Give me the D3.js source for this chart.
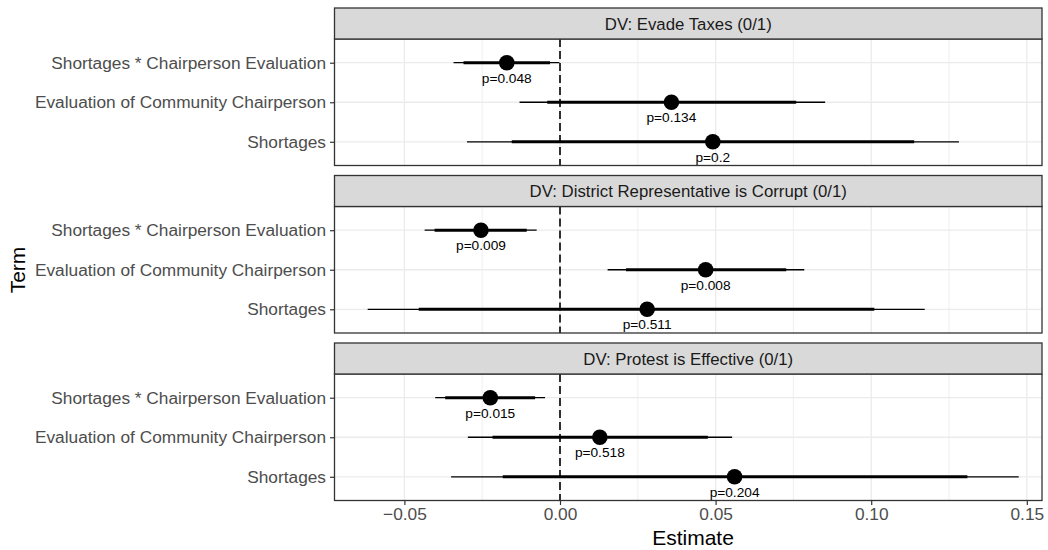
<!DOCTYPE html>
<html lang="en">
<head>
<meta charset="UTF-8">
<script src="https://d3js.org/d3.v7.min.js"></script>
<title>Coefficient plot</title>
<style>
  body { margin: 0; background: #fff; }
  svg text { font-family: "Liberation Sans", Arial, Helvetica, sans-serif; }
</style>
</head>
<body>
<div id="container"></div>
<script>
// terms, top to bottom inside each facet
var terms = ["Shortages * Chairperson Evaluation", "Evaluation of Community Chairperson", "Shortages"];
var facets = ["DV: Evade Taxes (0/1)", "DV: District Representative is Corrupt (0/1)", "DV: Protest is Effective (0/1)"];

// point estimates per facet (same order as terms)
var estimates = [
  [-0.0171, 0.0358, 0.0491],
  [-0.0254, 0.0468, 0.0280],
  [-0.0224, 0.0128, 0.0561]
];
// outer (thin) interval
var ciLow95 = [
  [-0.0342, -0.0130, -0.0299],
  [-0.0435, 0.0153, -0.0618],
  [-0.0401, -0.0296, -0.0350]
];
var ciHigh95 = [
  [-0.0002, 0.0852, 0.1282],
  [-0.0075, 0.0785, 0.1172],
  [-0.0048, 0.0553, 0.1474]
];
// inner (thick) interval
var ciLow90 = [
  [-0.0310, -0.0041, -0.0155],
  [-0.0403, 0.0212, -0.0454],
  [-0.0369, -0.0217, -0.0184]
];
var ciHigh90 = [
  [-0.0032, 0.0759, 0.1138],
  [-0.0107, 0.0727, 0.1010],
  [-0.0080, 0.0475, 0.1309]
];
var pLabels = [
  ["p=0.048", "p=0.134", "p=0.2"],
  ["p=0.009", "p=0.008", "p=0.511"],
  ["p=0.015", "p=0.518", "p=0.204"]
];
var xTicks = [-0.05, 0, 0.05, 0.10, 0.15];
var xMinor = [-0.025, 0.025, 0.075, 0.125];

var width = 1048, height = 550;
var left = 334.5, right = 1042;
var top0 = 8, stripH = 31, panelH = 126.5, gap = 10;

var svg = d3.select("#container").append("svg")
  .attr("width", width).attr("height", height);

var x = d3.scaleLinear().domain([-0.07246, 0.15488]).range([left, right]);

facets.forEach(function(title, f) {
  var sTop = top0 + f * (stripH + panelH + gap);
  var pTop = sTop + stripH;
  var pBot = pTop + panelH;

  var y = d3.scalePoint().domain(terms).range([pTop, pBot]).padding(0.6);

  var g = svg.append("g");

  // panel background + grid
  g.append("rect").attr("x", left).attr("y", pTop).attr("width", right - left).attr("height", panelH)
    .attr("fill", "#fff");
  g.selectAll(".minor").data(xMinor).enter().append("line")
    .attr("x1", d => x(d)).attr("x2", d => x(d)).attr("y1", pTop).attr("y2", pBot)
    .attr("stroke", "#ebebeb").attr("stroke-width", 0.8);
  g.selectAll(".major").data(xTicks).enter().append("line")
    .attr("x1", d => x(d)).attr("x2", d => x(d)).attr("y1", pTop).attr("y2", pBot)
    .attr("stroke", "#ebebeb").attr("stroke-width", 1.3);
  g.selectAll(".hgrid").data(terms).enter().append("line")
    .attr("x1", left).attr("x2", right).attr("y1", d => y(d)).attr("y2", d => y(d))
    .attr("stroke", "#ebebeb").attr("stroke-width", 1.3);

  // zero line
  g.append("line").attr("x1", x(0)).attr("x2", x(0)).attr("y1", pTop).attr("y2", pBot)
    .attr("stroke", "#000").attr("stroke-width", 1.6).attr("stroke-dasharray", "8,4");

  // thin intervals
  g.selectAll(".thin").data(terms).enter().append("line")
    .attr("x1", (d, i) => x(ciLow95[f][i])).attr("x2", (d, i) => x(ciHigh95[f][i]))
    .attr("y1", d => y(d)).attr("y2", d => y(d))
    .attr("stroke", "#000").attr("stroke-width", 1.3);
  // thick intervals
  g.selectAll(".thick").data(terms).enter().append("line")
    .attr("x1", (d, i) => x(ciLow90[f][i])).attr("x2", (d, i) => x(ciHigh90[f][i]))
    .attr("y1", d => y(d)).attr("y2", d => y(d))
    .attr("stroke", "#000").attr("stroke-width", 3);
  // points
  g.selectAll("circle").data(terms).enter().append("circle")
    .attr("cx", (d, i) => x(estimates[f][i])).attr("cy", d => y(d)).attr("r", 7.8)
    .attr("fill", "#000");
  // p-value labels
  g.selectAll(".plab").data(terms).enter().append("text")
    .attr("x", (d, i) => x(estimates[f][i])).attr("y", d => y(d) + 20)
    .attr("text-anchor", "middle").attr("font-size", "13.7px").attr("fill", "#000")
    .text((d, i) => pLabels[f][i]);

  // panel border
  g.append("rect").attr("x", left).attr("y", pTop).attr("width", right - left).attr("height", panelH)
    .attr("fill", "none").attr("stroke", "#333").attr("stroke-width", 1.3);

  // strip
  g.append("rect").attr("x", left).attr("y", sTop).attr("width", right - left).attr("height", stripH)
    .attr("fill", "#d9d9d9").attr("stroke", "#333").attr("stroke-width", 1.3);
  g.append("text").attr("x", (left + right) / 2).attr("y", sTop + stripH / 2 + 6)
    .attr("text-anchor", "middle").attr("font-size", "16.8px").attr("fill", "#1a1a1a")
    .text(title);

  // y axis
  var yAxis = d3.axisLeft(y).tickSize(4.5).tickPadding(4);
  var ya = g.append("g").attr("transform", "translate(" + left + ",0)").call(yAxis);
  ya.select(".domain").remove();
  ya.selectAll(".tick line").attr("stroke", "#333").attr("stroke-width", 1.2);
  ya.selectAll(".tick text").attr("fill", "#4d4d4d").attr("font-size", "17.3px");

  if (f === facets.length - 1) {
    var xAxis = d3.axisBottom(x).tickValues(xTicks).tickSize(4.5).tickPadding(3)
      .tickFormat(d3.format(".2f"));
    var xa = g.append("g").attr("transform", "translate(0," + pBot + ")").call(xAxis);
    xa.select(".domain").remove();
    xa.selectAll(".tick line").attr("stroke", "#333").attr("stroke-width", 1.2);
    xa.selectAll(".tick text").attr("fill", "#4d4d4d").attr("font-size", "17.3px")
      .text(d => d3.format(".2f")(d).replace("-", "\u2212"));
  }
});

// axis titles
svg.append("text").attr("x", 693).attr("y", 545).attr("text-anchor", "middle")
  .attr("font-size", "21px").attr("fill", "#000").text("Estimate");
svg.append("text").attr("transform", "translate(25,270) rotate(-90)").attr("text-anchor", "middle")
  .attr("font-size", "21px").attr("fill", "#000").text("Term");
</script>
</body>
</html>
